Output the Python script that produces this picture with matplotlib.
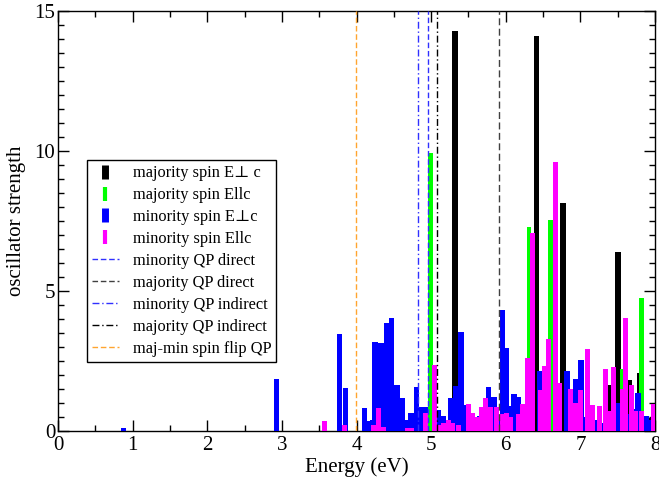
import numpy as np
import matplotlib
matplotlib.use("Agg")
import matplotlib.pyplot as plt
from matplotlib.lines import Line2D

plt.rcParams['font.family'] = ['Liberation Serif', 'DejaVu Serif']

# majority spin E perp c (black)
maj_perp_E = [5.32, 6.41, 6.77, 7.50, 7.40, 7.65, 7.80, 7.93]
maj_perp_f = [14.3, 14.1, 8.13, 6.4, 1.64, 1.82, 2.06, 0.45]

# majority spin E || c (green)
maj_par_E = [4.99, 6.31, 6.60, 7.56, 7.82]
maj_par_f = [9.93, 7.27, 7.54, 2.2, 4.76]

# minority spin E perp c (blue)
min_perp_E = [0.88, 2.93, 3.77, 3.85, 4.11, 4.17, 4.21, 4.25, 4.33, 4.41, 4.47,
              4.54, 4.61, 4.67, 4.73, 4.80, 4.86, 4.92, 5.09, 5.16, 5.26, 5.33,
              5.40, 5.45, 5.53, 5.59, 5.65, 5.71, 5.77, 5.84, 5.89, 5.96, 6.01,
              6.06, 6.11, 6.17, 6.23, 6.46, 6.52, 6.71, 6.82, 6.88, 6.94, 7.01,
              7.08, 7.16, 7.22, 7.28, 7.50, 7.65, 7.71, 7.77, 7.88, 7.94]
min_perp_f = [0.1, 1.85, 3.45, 1.52, 0.82, 0.35, 0.4, 3.17, 3.13, 3.85, 4.02,
              1.66, 1.17, 0.39, 0.63, 1.58, 0.87, 0.85, 0.75, 0.55, 1.17, 1.6,
              3.55, 0.93, 0.58, 0.3, 0.55, 0.5, 1.56, 1.22, 0.5, 4.32, 2.98,
              0.9, 1.33, 1.2, 0.6, 2.14, 0.7, 0.7, 2.16, 0.8, 1.86, 2.54,
              0.5, 0.55, 0.4, 0.3, 1.0, 0.6, 0.8, 1.37, 0.55, 0.4]

# minority spin E || c (magenta)
min_par_E = [3.57, 3.84, 4.23, 4.30, 4.36, 4.68, 4.74, 4.92, 5.04, 5.11, 5.17,
             5.23, 5.29, 5.37, 5.50, 5.55, 5.59, 5.63, 5.68, 5.73, 5.80, 5.87,
             5.95, 6.01, 6.07, 6.17, 6.23, 6.29, 6.36, 6.46, 6.52, 6.57, 6.67,
             6.72, 6.87, 6.93, 7.00, 7.10, 7.16, 7.25, 7.33, 7.38, 7.44, 7.56,
             7.61, 7.69, 7.74, 7.82, 7.98]
min_par_f = [0.36, 0.21, 0.2, 0.81, 0.15, 0.1, 0.12, 0.63, 2.36, 0.2, 0.3,
             0.4, 0.3, 0.2, 0.98, 0.65, 0.5, 0.51, 0.87, 1.17, 0.87, 0.87,
             0.6, 0.64, 0.5, 0.6, 0.95, 2.6, 7.06, 1.46, 2.32, 3.29, 9.6,
             1.7, 1.5, 1.0, 1.46, 2.92, 0.93, 0.89, 2.2, 0.7, 2.27, 1.49,
             4.04, 1.64, 0.7, 0.7, 0.96]

# QP gap lines
min_qp_direct = 4.96
maj_qp_direct = 5.91
min_qp_indirect = 4.83
maj_qp_indirect = 5.08
spin_flip_qp = 3.99

fig = plt.figure(figsize=(6.59, 4.79), dpi=100)
ax = fig.add_axes([0.088, 0.1002, 0.906, 0.877])

ax.bar(maj_perp_E, maj_perp_f, width=0.075, color='black', zorder=2)
ax.bar(maj_par_E, maj_par_f, width=0.06, color='#00ff00', zorder=3)
ax.bar(min_perp_E, min_perp_f, width=0.072, color='#0000ff', zorder=4)
ax.bar(min_par_E, min_par_f, width=0.066, color='#ff00ff', zorder=5)

ax.axvline(min_qp_direct, color='#3030ff', ls=(0, (4, 2)), lw=1, zorder=6)
ax.axvline(maj_qp_direct, color='#404040', ls=(0, (5, 2.5)), lw=1, zorder=6)
ax.axvline(min_qp_indirect, color='#3030ff', ls=(0, (5, 2, 1, 2)), lw=1, zorder=6)
ax.axvline(maj_qp_indirect, color='black', ls=(0, (5, 2, 1, 2)), lw=1, zorder=6)
ax.axvline(spin_flip_qp, color='#ffa530', ls=(0, (4, 2)), lw=1, zorder=6)

ax.set_xlim(0, 8)
ax.set_ylim(0, 15)
ax.set_xticks(np.arange(0, 9, 1))
ax.set_xticks(np.arange(0, 8.01, 0.5), minor=True)
ax.set_yticks([0, 5, 10, 15])
ax.set_yticks(np.arange(0, 15.01, 0.5), minor=True)
ax.tick_params(which='both', direction='in', top=True, right=True, labelsize=15)
ax.tick_params(which='major', length=8, width=1)
ax.tick_params(which='minor', length=4.5, width=1)
ax.tick_params(axis='y', pad=2)
for s in ax.spines.values():
    s.set_linewidth(1)

ax.set_xlabel('Energy (eV)', fontsize=15, labelpad=2)
ax.set_ylabel('oscillator strength', fontsize=15, labelpad=6)

handles = [
    Line2D([0], [0], color='black', marker='|', ls='none', ms=10, mew=5),
    Line2D([0], [0], color='#00ff00', marker='|', ls='none', ms=10, mew=3),
    Line2D([0], [0], color='#0000ff', marker='|', ls='none', ms=10, mew=5),
    Line2D([0], [0], color='#ff00ff', marker='|', ls='none', ms=10, mew=3),
    Line2D([0], [0], color='#3030ff', ls=(0, (4, 2)), lw=1),
    Line2D([0], [0], color='#404040', ls=(0, (4, 2)), lw=1),
    Line2D([0], [0], color='#3030ff', ls=(0, (5, 2, 1, 2)), lw=1),
    Line2D([0], [0], color='black', ls=(0, (5, 2, 1, 2)), lw=1),
    Line2D([0], [0], color='#ffa530', ls=(0, (4, 2)), lw=1),
]
labels = ['majority spin E\u22a5 c', 'majority spin Ellc', 'minority spin E\u22a5c',
          'minority spin Ellc', 'minority QP direct', 'majority QP direct',
          'minority QP indirect', 'majority QP indirect', 'maj-min spin flip QP']
leg = ax.legend(handles, labels, loc='upper left', bbox_to_anchor=(0.048, 0.644),
                fontsize=11.8, frameon=True, fancybox=False, framealpha=1,
                edgecolor='black', handlelength=1.7, handletextpad=0.8,
                labelspacing=0.36, borderpad=0.3, borderaxespad=0)
leg.get_frame().set_linewidth(1)
leg.set_zorder(10)

fig.savefig('out.png', dpi=100)
